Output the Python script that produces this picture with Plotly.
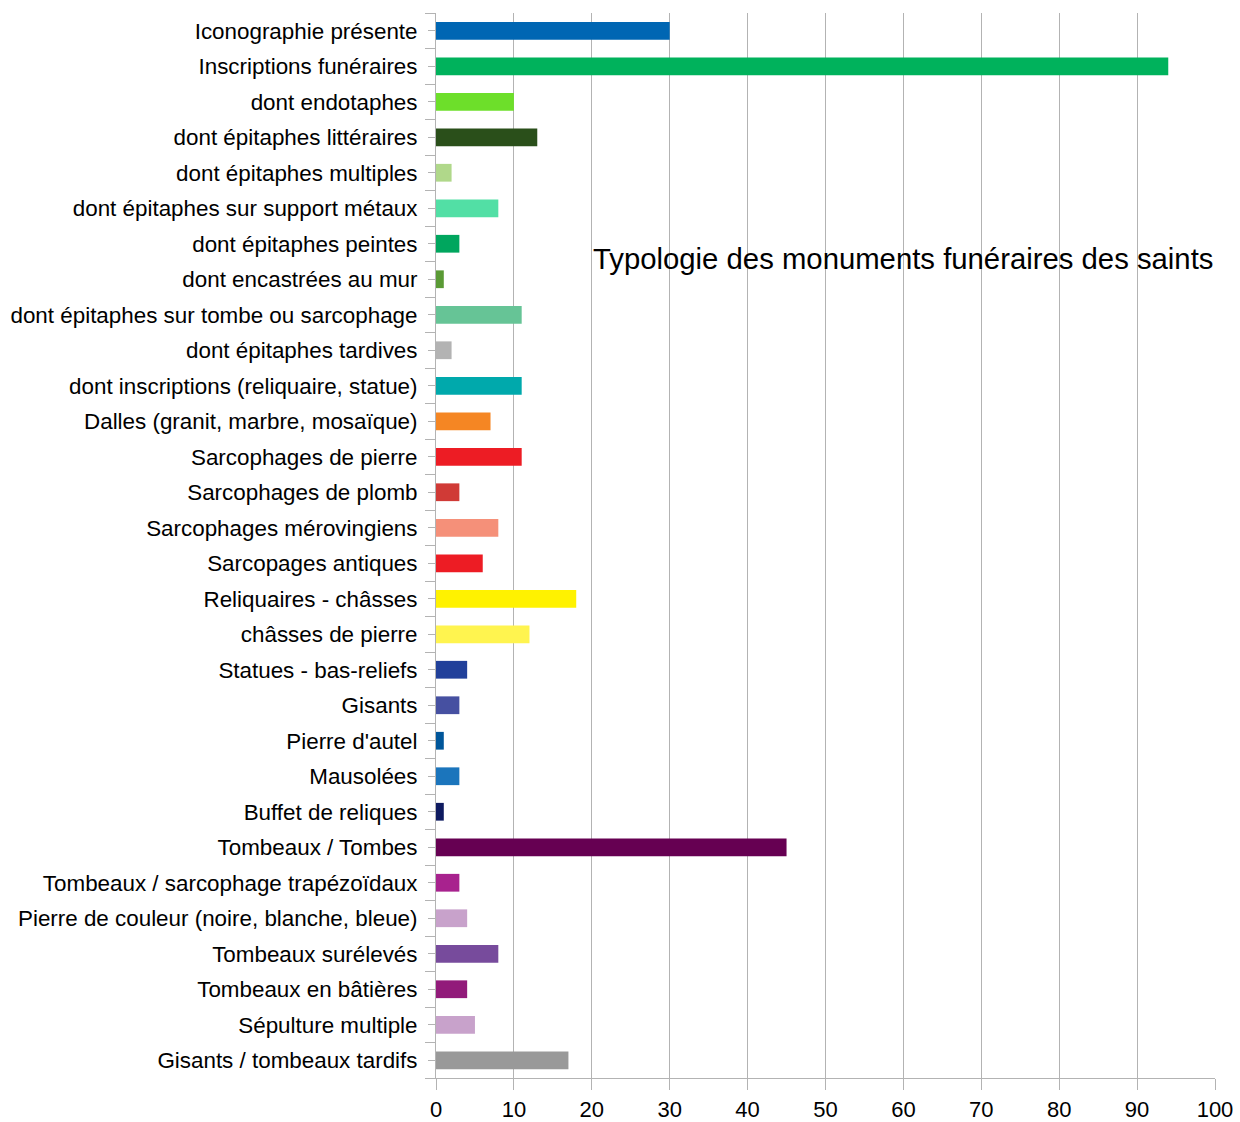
import plotly.graph_objects as go

categories = [
    "Iconographie présente",
    "Inscriptions funéraires",
    "dont endotaphes",
    "dont épitaphes littéraires",
    "dont épitaphes multiples",
    "dont épitaphes sur support métaux",
    "dont épitaphes peintes",
    "dont encastrées au mur",
    "dont épitaphes sur tombe ou sarcophage",
    "dont épitaphes tardives",
    "dont inscriptions (reliquaire, statue)",
    "Dalles (granit, marbre, mosaïque)",
    "Sarcophages de pierre",
    "Sarcophages de plomb",
    "Sarcophages mérovingiens",
    "Sarcopages antiques",
    "Reliquaires - châsses",
    "châsses de pierre",
    "Statues - bas-reliefs",
    "Gisants",
    "Pierre d'autel",
    "Mausolées",
    "Buffet de reliques",
    "Tombeaux / Tombes",
    "Tombeaux / sarcophage trapézoïdaux",
    "Pierre de couleur (noire, blanche, bleue)",
    "Tombeaux surélevés",
    "Tombeaux en bâtières",
    "Sépulture multiple",
    "Gisants / tombeaux tardifs",
]

values = [30, 94, 10, 13, 2, 8, 3, 1, 11, 2, 11, 7, 11, 3, 8, 6, 18, 12, 4, 3, 1, 3, 1, 45, 3, 4, 8, 4, 5, 17]

colors = [
    "#0066B3", "#00B25C", "#6DDF2A", "#2A4F1A", "#B0D88A", "#52DFA5", "#00A65E",
    "#5A9A35", "#66C496", "#B3B3B3", "#00A9AC", "#F58623", "#ED1C24", "#D03A36",
    "#F59079", "#ED1C24", "#FFF200", "#FFF44F", "#21409A", "#4650A1", "#00569A",
    "#1B75BC", "#0E1A60", "#660052", "#A8228E", "#C8A2CB", "#774B9C", "#921B7A",
    "#C8A2CB", "#999999",
]

x_ticks = [0, 10, 20, 30, 40, 50, 60, 70, 80, 90, 100]
title_text = "Typologie des monuments funéraires des saints"

positions = list(range(len(categories)))

fig = go.Figure()
fig.add_trace(go.Bar(
    x=values,
    y=positions,
    orientation="h",
    marker=dict(color=colors, line=dict(width=0)),
    width=0.5,
    showlegend=False,
    hoverinfo="x+text",
    text=categories,
    textposition="none",
))

fig.update_layout(
    width=1240,
    height=1122,
    margin=dict(l=436, r=25, t=13, b=44, autoexpand=False),
    paper_bgcolor="white",
    plot_bgcolor="white",
    font=dict(family="Liberation Sans, Arial, sans-serif", color="#000000"),
    annotations=[dict(
        text=title_text,
        x=1.0, xref="paper", xanchor="right",
        y=1 - (258 - 13) / 1065, yref="paper", yanchor="middle",
        showarrow=False,
        font=dict(size=29.3, family="Liberation Sans, Arial, sans-serif", color="#000000"),
    )],
)

fig.update_xaxes(
    range=[0, 100],
    tickvals=x_ticks,
    ticktext=[str(t) for t in x_ticks],
    tickfont=dict(size=22),
    showgrid=True,
    gridcolor="#B3B3B3",
    gridwidth=1,
    showline=True,
    linecolor="#B3B3B3",
    linewidth=1,
    ticks="outside",
    ticklen=11,
    tickcolor="#B3B3B3",
    ticklabelstandoff=1,
    zeroline=False,
    automargin=False,
    fixedrange=True,
)

fig.update_yaxes(
    range=[len(categories) - 0.5, -0.5],
    tickvals=positions,
    ticktext=categories,
    tickfont=dict(size=22.4),
    showgrid=False,
    showline=True,
    linecolor="#B3B3B3",
    linewidth=1,
    ticks="outside",
    ticklen=7,
    tickcolor="#B3B3B3",
    ticklabelstandoff=6,
    zeroline=False,
    automargin=False,
    minor=dict(
        tickvals=[p - 0.5 for p in positions] + [len(categories) - 0.5],
        ticks="outside",
        ticklen=10,
        tickcolor="#B3B3B3",
        showgrid=False,
    ),
    fixedrange=True,
)

fig.write_html(
    "out.html",
    config={"displayModeBar": False},
    post_script="document.body.style.margin='0';document.body.style.overflow='hidden';",
)
